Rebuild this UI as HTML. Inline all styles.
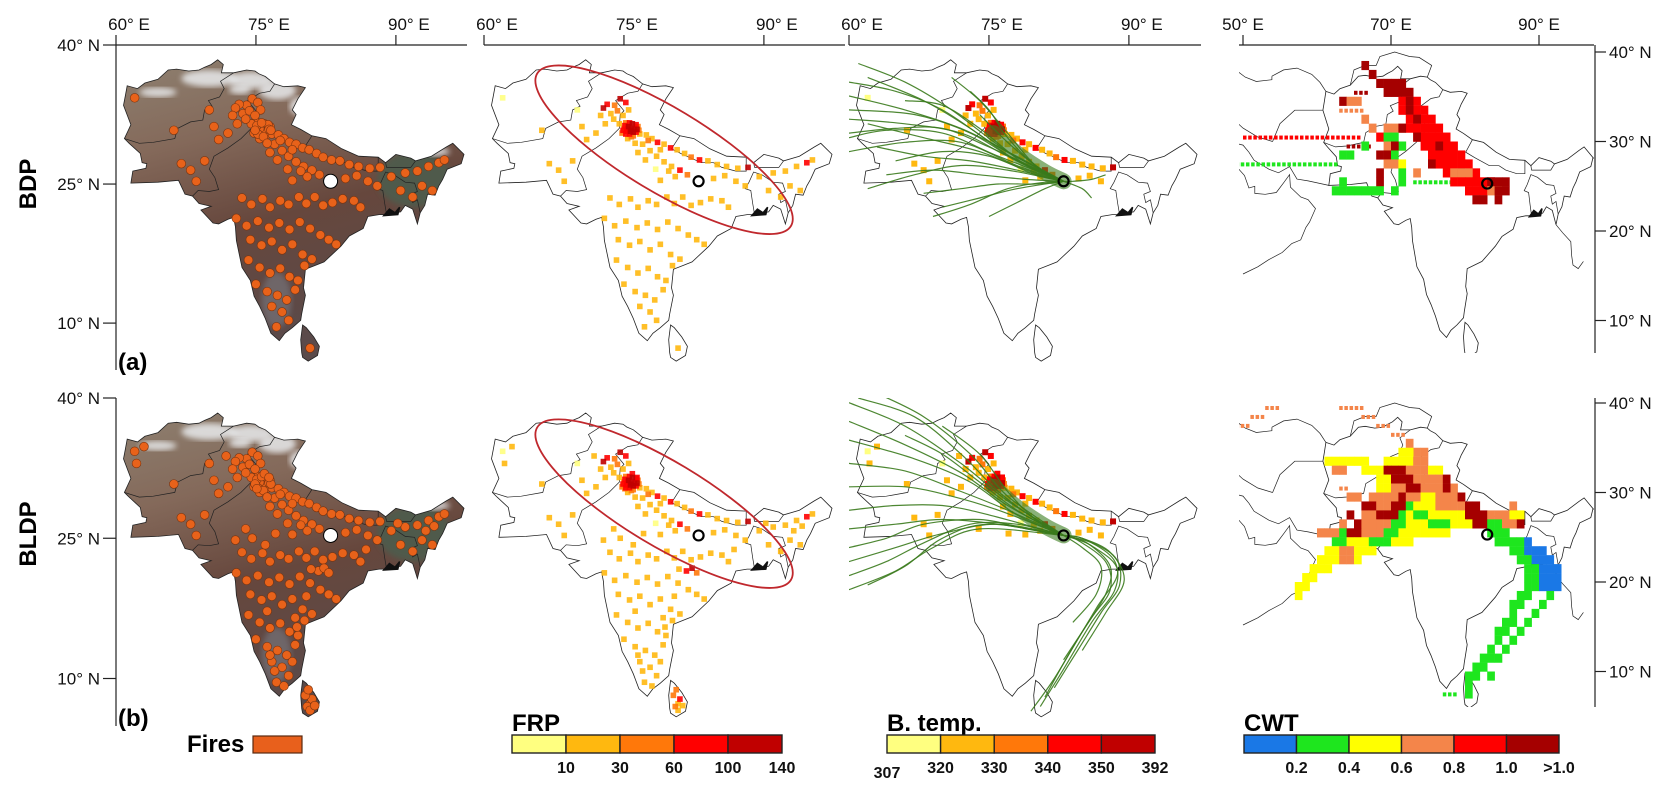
<!DOCTYPE html>
<html><head><meta charset="utf-8">
<style>
html,body{margin:0;padding:0;background:#fff;}
svg{display:block;font-family:"Liberation Sans",Arial,sans-serif;}
.ax{font-size:17px;fill:#111;}
.lg{font-size:16px;font-weight:bold;fill:#111;}
.lt{font-size:24px;font-weight:bold;fill:#000;}
</style></head>
<body>
<svg id="fig" width="1671" height="791" viewBox="0 0 1671 791" xmlns="http://www.w3.org/2000/svg">
<defs>
<linearGradient id="sat" x1="0" y1="0" x2="0.3" y2="1">
<stop offset="0" stop-color="#8e8070"/><stop offset="0.3" stop-color="#84695a"/>
<stop offset="0.6" stop-color="#66473d"/><stop offset="1" stop-color="#5a4a4a"/>
</linearGradient>
<filter id="blur"><feGaussianBlur stdDeviation="3"/></filter>
</defs>
<g id="layer"></g>
</svg>
<script>
// ---------- data ----------
const OUTLINE=[[60.9,29.9],[61.6,31.4],[60.8,33.5],[61.0,34.5],[61.2,35.6],[62.3,35.3],[63.1,35.9],[64.5,36.3],[65.6,37.3],[66.5,37.4],[67.8,37.2],[68.9,37.3],[69.5,37.6],[70.2,37.9],[70.9,38.4],[71.5,37.9],[71.3,37.0],[72.6,37.0],[74.0,37.3],[74.9,37.2],[75.3,36.9],[76.0,36.6],[77.0,35.8],[78.0,35.5],[79.5,35.6],[80.3,35.4],[79.5,34.2],[78.9,33.0],[79.3,32.5],[78.8,31.4],[79.8,30.9],[81.0,30.2],[82.5,29.9],[84.2,28.8],[86.0,28.0],[88.1,27.9],[88.9,27.3],[90.0,28.2],[91.6,27.8],[92.1,27.5],[93.8,28.0],[95.4,29.0],[96.1,29.4],[97.3,28.2],[97.0,27.2],[95.5,26.6],[95.0,25.5],[94.6,24.8],[94.2,23.8],[93.4,23.9],[93.1,22.7],[92.6,21.9],[92.3,20.7],[91.8,22.3],[91.0,22.7],[90.5,22.0],[89.8,21.9],[89.0,21.7],[88.2,21.7],[87.0,21.5],[86.5,20.2],[85.0,19.4],[84.1,18.3],[82.3,16.6],[81.3,16.2],[80.3,15.8],[80.1,13.8],[80.3,13.0],[79.9,11.0],[79.8,10.3],[78.9,9.5],[78.1,8.9],[77.5,8.1],[76.6,8.9],[76.0,10.5],[75.4,11.8],[74.8,12.9],[74.4,14.6],[73.5,16.0],[72.9,18.9],[72.8,20.4],[72.6,21.4],[72.0,21.2],[71.0,20.7],[70.4,20.8],[69.1,22.2],[70.2,22.6],[68.9,22.9],[68.2,23.7],[67.4,23.9],[66.7,25.4],[64.5,25.2],[61.6,25.1],[61.8,26.4],[63.2,26.7],[63.3,27.2],[62.8,27.3],[62.6,28.3],[61.4,29.4]];
const SRI_LANKA=[[79.9,6.8],[79.8,8.2],[80.0,9.8],[80.4,9.5],[81.2,8.5],[81.8,7.5],[81.6,6.5],[80.6,5.9],[80.0,6.3]];
const BORDERS=[
 [[60.9,29.9],[62.5,29.4],[64.0,29.5],[66.3,29.9],[66.6,31.0],[68.0,31.7],[69.3,31.9],[69.5,33.0],[70.3,33.4],[69.9,34.0],[71.1,34.4],[71.6,35.3],[71.2,36.1],[72.6,37.0]],
 [[68.2,23.7],[68.8,24.3],[70.0,24.2],[71.0,24.4],[70.6,25.7],[70.0,26.6],[70.5,28.0],[72.0,28.9],[73.4,29.9],[74.5,31.0],[74.6,32.5],[75.0,32.9],[74.1,34.0],[75.4,34.8],[76.5,35.0],[77.0,35.8]],
 [[81.0,30.2],[80.1,28.8],[81.3,28.2],[83.3,27.3],[84.6,27.3],[85.5,26.8],[87.0,26.4],[88.1,26.4],[88.1,27.9]],
 [[88.9,27.3],[89.0,26.8],[90.0,26.8],[91.6,26.8],[92.1,27.5]],
 [[89.0,21.7],[88.8,22.9],[88.6,24.3],[88.0,24.5],[88.4,25.2],[88.9,26.3],[89.8,26.0],[91.0,25.2],[92.0,25.1],[92.3,24.2],[91.6,23.9],[91.8,23.0],[92.3,23.3],[92.6,21.9]]
];
const WIDE_LINES=[
 [[48,30],[50,29.6],[50.8,28.8],[51.5,27.9],[53.5,26.9],[54.8,26.5],[56.3,27.2],[57.3,25.8],[58.8,25.6],[61.6,25.1]],
 [[48,28.5],[48.8,27.5],[50.2,26.2],[50.8,24.8],[51.6,25.0],[51.6,24.2],[53,24.1],[54.5,24.3],[55.5,25.4],[56.3,26.3],[56.4,24.9],[57.8,23.8],[58.8,23.5],[59.8,22.5],[59.0,21],[58.5,20.4],[57.8,19.0],[56.6,18.6],[55.3,17.6],[53.5,16.8],[52,16],[50,15.2]],
 [[53.9,37.3],[55.5,38],[57.3,38.2],[59.3,37.5],[60.4,36.6],[61.2,35.6]],
 [[49,38],[50.3,37.2],[51.8,36.7],[53.9,36.9],[53.9,37.3]],
 [[64.5,36.3],[65,38],[66.5,38.5],[68,38.5],[68.5,39.5],[70.5,40],[72.5,39.5],[73.8,39.4],[75.5,38.5],[74.9,37.2]],
 [[92.3,20.7],[93.2,19.8],[94.3,18.8],[94.4,17.3],[94.6,16.2],[95.3,15.8],[96,16.6]],
 [[97.3,28.2],[98.5,27.5],[98.7,25.8],[97.6,24],[98.9,23],[99.5,22]],
 [[54,30],[55,32],[57,33.5],[60.8,33.5]],
 [[48,33],[50,31.5],[52,30.5],[54,30]]
];
const SNOW=[[70,36.4,3.0,0.9],[74.5,36.2,2.4,0.9],[77.3,35.1,2.0,1.0],[79.8,33.4,1.2,1.0],[73.3,35.2,1.2,0.5],[93.5,28.5,2.3,0.5],[64.5,34.9,2.0,0.5]];
const SITE=[83.0,25.3];
const FIRES_BDP=[[75.5,31.2,110],[75.8,30.9,120],[76.1,31.0,90],[75.3,30.7,80],[75.9,31.5,100],[76.3,30.6,70],[75.6,30.4,60],[75.0,31.0,50],[76.5,31.2,40],[75.2,31.6,45],[74.8,30.5,35],[76.0,30.2,30],[76.7,30.4,25],[74.5,31.5,20],[75.4,29.9,20],[75.7,30.7,130],[76.0,30.6,105],[75.4,31.0,95],[75.1,31.3,75],[76.3,31.4,85],[75.6,31.6,65],[76.4,30.9,110],[75.2,30.4,70],[75.8,30.1,50],[74.9,30.8,65],[76.6,30.8,55],
[74.6,34.2,120],[75.2,33.8,90],[74.0,33.5,40],[73.2,33.6,70],[72.8,33.2,100],[73.6,32.6,25],[74.3,32.9,30],[75.5,33.0,15],[74.9,32.4,20],[73.9,32.0,20],[72.5,32.4,15],
[77.4,30.3,20],[78.0,29.9,25],[78.6,29.5,60],[79.3,29.3,15],[80.0,28.9,80],[80.7,28.7,20],[81.5,28.3,25],[82.2,27.9,30],[83.1,27.6,70],[84.0,27.5,20],[85.0,27.1,25],[86.0,26.9,15],[87.2,26.7,20],[88.3,26.8,100],
[77.0,29.3,15],[77.8,28.6,20],[78.5,28.0,25],[79.3,27.4,15],[80.1,26.9,20],[81.0,26.5,60],[80.5,25.8,15],[79.8,26.4,25],[78.4,26.6,8],[77.3,27.6,15],[76.5,28.4,20],[81.8,26.0,30],[78.9,25.4,20],[76.2,29.4,20],[77.6,29.7,30],[78.9,28.7,20],
[67.0,27.2,20],[68.0,26.5,15],[68.6,25.3,25],[69.5,27.5,10],[71.0,29.8,15],[72.0,30.5,25],[73.0,31.5,20],[70.5,31.2,15],[66.2,30.8,10],[62.0,34.3,8],[70.0,33.0,8],
[73.5,23.5,15],[74.5,22.8,20],[75.7,23.4,25],[76.5,22.5,15],[77.6,23.2,20],[78.5,22.8,15],[79.6,23.6,25],[80.4,22.9,15],[81.3,23.6,20],[82.2,22.7,25],[83.2,23.0,15],[84.3,23.4,20],[85.5,23.2,10],[86.2,22.5,20],[72.9,21.3,25],[74.0,20.5,15],[75.2,21.0,20],[76.4,20.3,15],[77.5,20.8,25],[78.6,20.1,15],[79.7,20.9,20],[80.8,20.2,15],[81.9,19.5,25],[82.8,19.0,20],[83.6,18.5,15],[74.4,19.0,10],[75.6,18.4,20],[76.7,18.8,15],[77.8,17.9,25],[78.9,18.5,20],[80.0,17.4,15],[81.0,16.9,20],[74.2,16.8,15],[75.4,16.0,20],[76.5,15.4,25],[77.6,15.9,15],[78.6,15.0,20],[79.5,14.6,15],[75.0,14.2,20],[76.2,13.4,15],[77.3,13.0,25],[78.3,12.5,20],[76.7,11.8,15],[77.8,11.2,20],[78.5,10.3,25],[77.2,9.6,15],[79.2,13.6,20],[80.2,16.2,10],
[91.0,26.2,20],[92.3,26.4,15],[93.5,26.9,25],[94.6,27.3,60],[95.2,27.6,20],[92.8,24.8,15],[93.9,24.3,20],[91.8,23.6,25],[90.5,24.3,15],[89.5,25.8,20],[88.0,24.8,15],[87.0,25.3,20],[85.8,25.9,15],[84.6,25.6,20],[80.8,7.3,20]];
const FIRES_BLDP_EXTRA=[[80.5,7.0,40],[81.0,7.8,60],[80.3,8.2,30],[80.8,6.6,20],[81.3,7.1,25],[80.6,8.8,35],[77.0,10.8,20],[78.0,9.2,15],[76.5,12.5,20],[78.9,11.8,25],[79.4,15.5,15],[80.4,18.8,25],[81.7,21.5,60],[82.3,21.8,100],[82.8,21.3,30],[80.9,21.7,25],[62.2,33.0,10],[63.0,34.8,10],[73.9,26.0,15],[72.8,24.8,20],[74.6,25.0,15],[76.0,24.3,20],[77.1,25.5,15],[93.2,25.8,25],[94.1,26.3,20],[90.2,26.6,15],[86.8,23.8,20],[75.9,31.9,70],[76.4,31.5,90],[75.1,30.3,55],[71.8,33.8,25],[79.2,16.5,20],[76.2,17.2,15]];
const TRAJ_BDP=[
[[60,34.5],[66,33],[72,31],[77,28.5],[83,25.3]],[[60,32],[66,31.5],[72,30.5],[77,28],[83,25.3]],[[60,30.5],[65,31],[70,31],[75,29],[83,25.3]],[[60,30],[64,30.8],[70,30.5],[76,28],[83,25.3]],[[60,36],[65,35],[70,33],[76,29],[83,25.3]],[[61,38],[66,36],[71,33],[77,28.5],[83,25.3]],[[62,36.5],[68,34],[73,31],[78,27.5],[83,25.3]],[[63,29],[68,28],[73,27.5],[78,26.5],[83,25.3]],[[64,26],[69,26.5],[74,26],[79,25.5],[83,25.3]],[[68,24],[72,24.5],[76,25],[80,25],[83,25.3]],[[70,22.5],[74,23.5],[78,24.5],[83,25.3]],[[75,21.5],[78,23],[81,24.5],[83,25.3]],[[60,33],[67,32.5],[73,30.5],[78,27.5],[83,25.3]],[[73,35],[75,33],[77,30],[80,27],[83,25.3]],[[71,36.5],[74,34],[77,30.5],[80,27],[83,25.3]],[[66,34],[70,33.5],[74,31],[79,27],[83,25.3]],[[87.5,26],[86,25.5],[84,25.3],[83,25.3]],[[65,27.5],[70,28.5],[75,28],[80,26],[83,25.3]],[[69,21.5],[73,22.8],[77,24.5],[81,25.2],[83,25.3]],[[62,31.5],[68,30],[74,28.5],[79,26.5],[83,25.3]],[[86,23.5],[85,24.5],[83,25.3]],[[74,32.5],[77,29.5],[80,27],[83,25.3]],[[60,28.5],[66,29.5],[72,29.5],[78,27],[83,25.3]],[[62,24.5],[67,26],[72,27],[77,26.5],[83,25.3]]];
const TRAJ_BLDP=[
[[79.5,6.5],[82,10],[85,15],[87.5,19],[88,22],[85.5,24.5],[83,25.3]],[[80.5,7],[83,11],[86,16],[88.5,19.5],[88.5,22.5],[86,24.5],[83,25.3]],[[82,9],[84.5,13],[87,17],[89,20],[88.5,23],[85,25],[83,25.3]],[[85,13],[87.5,17],[89.5,20.5],[88,23.5],[85,25],[83,25.3]],[[83,12],[86,16.5],[88,19.5],[87.5,22.5],[84.5,24.8],[83,25.3]],[[84,16],[86.5,19],[87,22],[85,24],[83,25.3]],[[81,8],[83.5,12.5],[86.5,17.5],[88.8,21.5],[86,24.2],[83,25.3]],
[[60,39.5],[66,37],[72,33],[77,29],[83,25.3]],[[60,37.5],[66,35],[72,32],[77,28.5],[83,25.3]],[[60,35.5],[67,33.5],[73,31],[78,27.5],[83,25.3]],[[60,33],[66,32.2],[72,30],[77,28],[83,25.3]],[[60,28],[65,28.5],[70,28.5],[75,27.5],[83,25.3]],[[60,24],[64,25],[68,26.5],[74,27],[79,26],[83,25.3]],[[60,21],[64,22.5],[68,24.5],[73,26.5],[78,26.5],[83,25.3]],[[60,22.5],[65,24],[70,25.5],[76,26.5],[83,25.3]],[[61,40],[67,38],[72,34],[76,30],[80,27],[83,25.3]],[[63,40.5],[68,38],[73,34],[77,29.5],[83,25.3]],[[60,30.5],[66,30.5],[71,29.5],[76,28],[83,25.3]],[[60,26],[65,26.5],[70,27],[76,26.5],[83,25.3]],[[62,20],[66,22],[70,25],[75,26.5],[83,25.3]],[[66,36],[70,34],[74,31],[78,28],[83,25.3]],[[70,37],[74,34],[77,30],[80,27],[83,25.3]],[[60,19.5],[65,21.5],[69,24],[74,26],[83,25.3]]];
// CWT grid runs: [lat, lonFrom, lonTo, class, dotted]
const CWT_BDP=[[38,66,67,5],[37,67,68,5],[36,68,72,5],[35,65,67,5,1],[35,69,73,5],[34,63,64,5],[34,64,66,3],[34,71,74,4],[34,72,73,5],[33,63,66,3,1],[33,71,75,4],[33,72,73,5],[32,66,67,3],[32,72,76,4],[32,73,74,5],[31,67,68,3],[31,69,72,3],[31,72,77,4],[31,71,72,5],[30,50,66,4,1],[30,68,69,4],[30,69,71,1],[30,73,78,4],[30,73,74,5],[29,64,67,5,1],[29,66,67,1],[29,69,72,3],[29,71,72,1],[29,74,79,4],[29,76,77,5],[29,70,71,5],[28,63,65,1],[28,68,70,5],[28,70,71,1],[28,75,80,4],[27,49,63,1,1],[27,69,71,3],[27,71,72,2],[27,76,81,4],[27,75,76,5],[26,68,69,5],[26,71,72,1],[26,73,74,3],[26,77,82,4],[26,79,80,5],[26,78,81,3],[25,63,64,1],[25,68,69,5],[25,71,72,1],[25,73,78,1,1],[25,78,84,4],[25,83,86,5],[24,62,69,1],[24,70,71,1],[24,80,83,4],[24,83,85,3],[24,84,86,5],[23,81,83,5],[23,84,85,5]];
const CWT_BLDP=[[37,49,51,3,1],[38,51,53,3,1],[39,53,55,3,1],[40,55,63,3,1],[39,63,66,3,1],[38,66,68,3,1],[37,68,70,3,1],[36,70,72,3,1],[35,72,73,3],[34,73,75,3],[34,71,73,2],[33,61,64,2],[33,64,67,2],[33,69,73,2],[33,73,75,3],[32,62,64,3],[32,66,69,2],[32,69,72,5],[32,72,75,3],[32,75,77,2],[31,68,70,2],[31,70,73,5],[31,73,77,3],[31,77,78,5],[30,63,64,3,1],[30,68,70,2],[30,70,72,3],[30,72,74,5],[30,74,79,3],[30,77,78,5],[29,64,66,3],[29,67,71,3],[29,71,72,5],[29,72,74,3],[29,74,76,2],[29,76,80,3],[29,79,80,5],[28,66,68,5],[28,68,70,3],[28,70,72,5],[28,72,73,1],[28,73,76,2],[28,76,80,3],[28,80,82,5],[28,86,87,3],[27,64,65,5],[27,66,68,3],[27,68,71,5],[27,71,72,1],[27,72,73,2],[27,73,75,1],[27,75,80,2],[27,80,83,5],[27,83,86,3],[27,86,88,2],[26,63,64,3],[26,65,66,5],[26,66,70,3],[26,70,72,1],[26,72,75,2],[26,75,78,1],[26,78,81,2],[26,81,83,5],[26,83,85,1],[26,85,87,3],[26,87,88,5],[25,60,63,3],[25,63,64,1],[25,64,66,5],[25,66,69,3],[25,69,71,1],[25,71,78,2],[25,83,86,1],[24,62,64,1],[24,64,67,2],[24,67,70,1],[24,70,73,2],[24,84,88,1],[24,88,89,0],[23,61,63,2],[23,63,65,3],[23,65,68,2],[23,86,88,1],[23,88,91,0],[22,60,63,2],[22,63,65,3],[22,65,66,2],[22,87,89,1],[22,89,92,0],[21,59,62,2],[21,88,90,1],[21,90,93,0],[20,58,60,2],[20,88,90,1],[20,90,93,0],[19,57,59,2],[19,88,90,1],[19,90,93,0],[18,57,58,2],[18,87,89,1],[18,91,92,1],[17,86,88,1],[17,90,91,1],[16,86,87,1],[16,89,90,1],[15,85,87,1],[15,88,89,1],[14,84,86,1],[14,87,88,1],[13,84,85,1],[13,86,87,1],[12,83,84,1],[12,85,86,1],[11,82,84,1],[11,84,85,1],[10,81,83,1],[9,80,82,1],[9,83,84,1],[8,80,81,1],[7,77,79,1,1],[7,80,81,1]];
const FRP_BREAKS=[10,30,60,100];
const FRP_TICKS=["10","30","60","100","140"];
const BT_TICKS=["307","320","330","340","350","392"];
const CWT_TICKS=["0.2","0.4","0.6","0.8","1.0",">1.0"];
const HEAT=["#ffff80","#ffb80f","#ff780a","#ff0000","#c00000"];
const CWT_COL=["#1a78e6","#1ee61e","#ffff00","#f4854a","#ff0000","#a50000"];

// ---------- helpers ----------
const NS="http://www.w3.org/2000/svg";
const layer=document.getElementById('layer');
function mk(tag,attrs,parent){const e=document.createElementNS(NS,tag);for(const k in attrs)e.setAttribute(k,attrs[k]);(parent||layer).appendChild(e);return e;}
const ROWY=[45,398], KY=[9.27,9.35], PANX=[116,484,849], KX=9.33;
const P4Y=[52,403], K4X=7.4, K4Y=8.95;
function proj(panel,row){
  if(panel<3) return {x:lon=>PANX[panel]+(lon-60)*KX, y:lat=>ROWY[row]+(40-lat)*KY[row]};
  return {x:lon=>1243+(lon-50)*K4X, y:lat=>P4Y[row]+(40-lat)*K4Y};
}
function polyPath(pts,pr,close){return pts.map((p,i)=>(i?'L':'M')+pr.x(p[0]).toFixed(1)+','+pr.y(p[1]).toFixed(1)).join('')+(close?'Z':'');}
function smoothPath(pts,pr){
  const q=pts.map(p=>[pr.x(p[0]),pr.y(p[1])]);let d='M'+q[0][0].toFixed(1)+','+q[0][1].toFixed(1);
  for(let i=0;i<q.length-1;i++){const p0=q[i-1]||q[i],p1=q[i],p2=q[i+1],p3=q[i+2]||p2;
    const c1=[p1[0]+(p2[0]-p0[0])/6,p1[1]+(p2[1]-p0[1])/6],c2=[p2[0]-(p3[0]-p1[0])/6,p2[1]-(p3[1]-p1[1])/6];
    d+='C'+c1.map(v=>v.toFixed(1)).join(',')+' '+c2.map(v=>v.toFixed(1)).join(',')+' '+p2[0].toFixed(1)+','+p2[1].toFixed(1);}
  return d;
}
function frpClass(v){let c=0;while(c<FRP_BREAKS.length&&v>=FRP_BREAKS[c])c++;return c;}
const defs=document.querySelector('defs');
function clipRect(id,x,y,w,h){const c=mk('clipPath',{id:id},defs);mk('rect',{x:x,y:y,width:w,height:h},c);}
const PANW=[351,361,352];
for(let r=0;r<2;r++){
  for(let p=0;p<3;p++) clipRect('c'+p+r,PANX[p],ROWY[r],PANW[p],r?332:327);
  clipRect('c3'+r,1239,r?402:47,355,r?305:306);
}

function drawBase(g,pr,stroke){
  const o=mk('path',{d:polyPath(OUTLINE,pr,true)+polyPath(SRI_LANKA,pr,true),fill:'none',stroke:stroke,'stroke-width':0.8},g);
  
  
  BORDERS.forEach(b=>{const l=mk('path',{d:polyPath(b,pr,false),fill:'none',stroke:stroke,'stroke-width':0.7},g);
    
    });
  const sb=mk('path',{d:polyPath([[88.7,21.6],[89.3,22.3],[89.9,21.9],[90.4,22.5],[90.2,21.7]],pr,true),fill:'#111',stroke:'#111','stroke-width':1.5},g);
  
  
}
function drawSite(g,pr,white){
  const c=mk('circle',{cx:pr.x(SITE[0]),cy:pr.y(SITE[1]),r:white?7:5,fill:white?'#fff':'none',stroke:'#000','stroke-width':white?1:2.2},g);
  
  
}

const rowNames=['bdp','bldp'];
for(let r=0;r<2;r++){
  const fires=r?FIRES_BDP.concat(FIRES_BLDP_EXTRA):FIRES_BDP;
  let pr=proj(0,r);
  const g1=mk('g',{'clip-path':'url(#c0'+r+')'});
  
  
  const cp=mk('clipPath',{id:'land'+r},defs);
  mk('path',{d:polyPath(OUTLINE,pr,true)+polyPath(SRI_LANKA,pr,true)},cp);
  const land=mk('g',{'clip-path':'url(#land'+r+')'},g1);
  const bg=mk('path',{d:polyPath(OUTLINE,pr,true)+polyPath(SRI_LANKA,pr,true),fill:'url(#sat)'},land);
  
  
  const ne=mk('ellipse',{cx:pr.x(92),cy:pr.y(25.5),rx:4*KX,ry:3*KX,fill:'#4f5a4c',filter:'url(#blur)'},land);
  
  
  const sw=mk('ellipse',{cx:pr.x(77.2),cy:pr.y(12.5),rx:1.6*KX,ry:3*KX,fill:'#7b7f88',opacity:0.55,filter:'url(#blur)'},land);
  
  
  SNOW.forEach(s=>{const e=mk('ellipse',{cx:pr.x(s[0]),cy:pr.y(s[1]),rx:s[2]*KX,ry:s[3]*KX,fill:'#e8eaec',opacity:0.85,filter:'url(#blur)'},land);
    
    });
  drawBase(g1,pr,'#222');
  fires.forEach(f=>{const c=mk('circle',{cx:pr.x(f[0]),cy:pr.y(f[1]),r:4.4,fill:'#e8621a',stroke:'#7a3410','stroke-width':0.6},g1);
    
    });
  drawSite(g1,pr,true);

  pr=proj(1,r);
  const g2=mk('g',{'clip-path':'url(#c1'+r+')'});
  
  
  drawBase(g2,pr,'#222');
  fires.slice().sort((a,b)=>a[2]-b[2]).forEach(f=>{const s=mk('rect',{x:pr.x(f[0])-2.8,y:pr.y(f[1])-2.8,width:5.6,height:5.6,fill:HEAT[frpClass(f[2])],opacity:0.9},g2);
    
    });
  const el=mk('ellipse',{cx:pr.x(79.3),cy:pr.y(28.7),rx:148,ry:42,fill:'none',stroke:'#c0282d','stroke-width':1.8,transform:'rotate(31 '+pr.x(79.3)+' '+pr.y(28.7)+')'},g2);
  
  
  drawSite(g2,pr,false);

  pr=proj(2,r);
  const g3=mk('g',{'clip-path':'url(#c2'+r+')'});
  
  
  drawBase(g3,pr,'#222');
  fires.filter(f=>f[1]>25&&f[0]<89).sort((a,b)=>a[2]-b[2]).forEach(f=>{const s=mk('rect',{x:pr.x(f[0])-3,y:pr.y(f[1])-3,width:6,height:6,fill:HEAT[frpClass(f[2])]},g3);
    
    });
  const cor=mk('path',{d:smoothPath([[75.5,30.5],[78,28.3],[81,26.3],[83,25.3]],pr),fill:'none',stroke:'#3b7d1e','stroke-width':16,opacity:0.6,'stroke-linecap':'round'},g3);
  
  
  (r?TRAJ_BLDP:TRAJ_BDP).forEach(t=>{const l=mk('path',{d:smoothPath(t,pr),fill:'none',stroke:'#3a7a1c','stroke-width':1.2,opacity:0.9},g3);
    
    });
  drawSite(g3,pr,false);

  pr=proj(3,r);
  const g4=mk('g',{'clip-path':'url(#c3'+r+')'});
  
  
  drawBase(g4,pr,'#222');
  WIDE_LINES.forEach(w=>{const l=mk('path',{d:polyPath(w,pr,false),fill:'none',stroke:'#222','stroke-width':0.7},g4);
    
    });
  (r?CWT_BLDP:CWT_BDP).forEach(run=>{
    const [lat,l0,l1,cls,dot]=run;
    for(let lon=l0;lon<l1;lon+=(dot?0.7:1)){
      const c=mk('rect',{x:pr.x(lon),y:pr.y(lat+1)+(dot?3:0),width:dot?3.5:K4X+0.3,height:dot?4:K4Y+0.2,fill:CWT_COL[cls]},g4);
      
      
    }
  });
  drawSite(g4,pr,false);
}

function line(x1,y1,x2,y2,name){const l=mk('line',{x1:x1,y1:y1,x2:x2,y2:y2,stroke:'#222','stroke-width':1.2});
  
  }
function text(x,y,s,cls,name,anchor){const t=mk('text',{x:x,y:y,'class':cls,'text-anchor':anchor||'start'});t.textContent=s;
  
  return t;}
const LON_TICKS=[60,75,90];
const LAT_TICKS=[40,25,10];
const LON4_TICKS=[50,70,90];
const LAT4_TICKS=[40,30,20,10];
const AXEND=[467,845,1201];
for(let p=0;p<3;p++){
  const pr=proj(p,0);
  line(PANX[p],45,AXEND[p],45,'top-axis-line');
  LON_TICKS.forEach(v=>{line(pr.x(v),35,pr.x(v),45,'lon-tick');text(pr.x(v)+13,30,v+'° E','ax','lon-tick-label','middle');});
}
line(1239,45,1594,45,'top-axis-line');
LON4_TICKS.forEach(v=>{const x=proj(3,0).x(v);line(x,35,x,45,'lon-tick');text(x,30,v+'° E','ax','lon-tick-label','middle');});
const LEFTB=[370,726], RIGHTB=[353,707];
for(let r=0;r<2;r++){
  const pr=proj(0,r);
  line(116,ROWY[r],116,LEFTB[r],'left-axis-line');
  LAT_TICKS.forEach(v=>{const y=pr.y(v);line(103,y,116,y,'lat-tick');text(100,y+6,v+'° N','ax','lat-tick-label','end');});
  const p4=proj(3,r);
  line(1595,r?398:45,1595,RIGHTB[r],'right-axis-line');
  LAT4_TICKS.forEach(v=>{const y=p4.y(v);line(1595,y,1606,y,'lat-tick');text(1609,y+6,v+'° N','ax','lat-tick-label','start');});
}
let t=text(0,0,'BDP','lt','row-label-bdp','middle');t.setAttribute('transform','translate(36,184) rotate(-90)');t.setAttribute('font-size','26');
t=text(0,0,'BLDP','lt','row-label-bldp','middle');t.setAttribute('transform','translate(36,534) rotate(-90)');t.setAttribute('font-size','26');
t=text(118,370,'(a)','lt','panel-label-a');t.setAttribute('font-size','26');
t=text(118,726,'(b)','lt','panel-label-b');t.setAttribute('font-size','26');

text(187,752,'Fires','lt','fires-legend-title').setAttribute('font-size','22');
const fs=mk('rect',{x:253,y:736,width:49,height:17,fill:'#e8601c',stroke:'#5a2a10','stroke-width':1.2});


function colorbar(x0,x1,cols,ticks,title,name,tickOffset){
  text(x0,731,title,'lt',name+'-title');
  const w=(x1-x0)/cols.length;
  cols.forEach((c,i)=>{const s=mk('rect',{x:x0+i*w,y:735,width:w,height:18,fill:c,stroke:'#222','stroke-width':1.4});
    
    });
  ticks.forEach((s,i)=>{const idx=i+tickOffset;const x=x0+idx*w;text(x,(tickOffset===0&&i===0)?778:773,s,'lg',name+'-tick-label','middle');});
}
colorbar(512,782,HEAT,FRP_TICKS,'FRP','frp-legend',1);
colorbar(887,1155,HEAT,BT_TICKS,'B. temp.','btemp-legend',0);
colorbar(1244,1559,CWT_COL,CWT_TICKS,'CWT','cwt-legend',1);
</script>
</body></html>
